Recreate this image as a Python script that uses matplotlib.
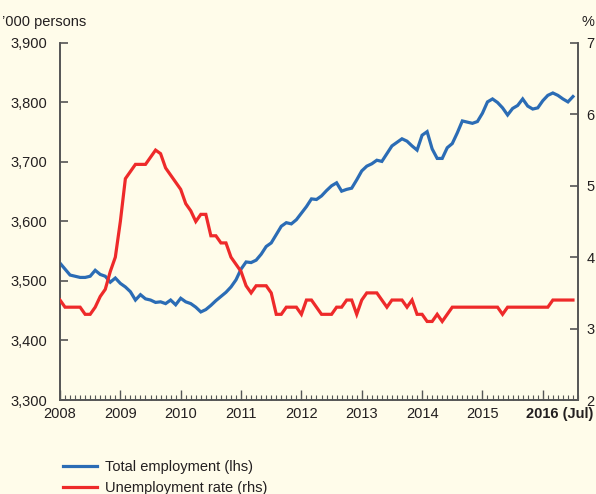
import numpy as np
import matplotlib
matplotlib.use("Agg")
import matplotlib.pyplot as plt
from matplotlib.ticker import FixedLocator, MultipleLocator, FuncFormatter
import matplotlib.transforms as mtransforms

# monthly data, Jan 2008 .. Jul 2016
employment = [
    3530, 3520, 3510, 3508, 3506, 3506, 3508, 3518, 3511, 3508, 3498, 3505,
    3496, 3490, 3482, 3468, 3477, 3470, 3468, 3464, 3465, 3462, 3468, 3460,
    3471, 3465, 3462, 3456, 3448, 3452, 3459, 3467, 3474, 3481, 3490, 3502,
    3520, 3532, 3531, 3535, 3545, 3558, 3564, 3578, 3592, 3598, 3596, 3603,
    3614, 3625, 3638, 3637, 3643, 3652, 3660, 3665, 3651, 3654, 3656, 3670,
    3685, 3693, 3697, 3703, 3701, 3714, 3727, 3733, 3739, 3735, 3727, 3720,
    3745, 3751, 3722, 3706, 3706, 3724, 3731, 3749, 3769, 3767, 3765, 3768,
    3782, 3801, 3806, 3800, 3791, 3779, 3790, 3795, 3806, 3794, 3789, 3791,
    3803, 3812, 3816, 3812, 3806, 3801, 3810,
]
unemployment = [
    3.4, 3.3, 3.3, 3.3, 3.3, 3.2, 3.2, 3.3, 3.45, 3.55, 3.8, 4.0,
    4.5, 5.1, 5.2, 5.3, 5.3, 5.3, 5.4, 5.5, 5.45, 5.25, 5.15, 5.05,
    4.95, 4.75, 4.65, 4.5, 4.6, 4.6, 4.3, 4.3, 4.2, 4.2, 4.0, 3.9,
    3.8, 3.6, 3.5, 3.6, 3.6, 3.6, 3.5, 3.2, 3.2, 3.3, 3.3, 3.3,
    3.2, 3.4, 3.4, 3.3, 3.2, 3.2, 3.2, 3.3, 3.3, 3.4, 3.4, 3.2,
    3.4, 3.5, 3.5, 3.5, 3.4, 3.3, 3.4, 3.4, 3.4, 3.3, 3.4, 3.2,
    3.2, 3.1, 3.1, 3.2, 3.1, 3.2, 3.3, 3.3, 3.3, 3.3, 3.3, 3.3,
    3.3, 3.3, 3.3, 3.3, 3.2, 3.3, 3.3, 3.3, 3.3, 3.3, 3.3, 3.3,
    3.3, 3.3, 3.4, 3.4, 3.4, 3.4, 3.4,
]
years = ["2008", "2009", "2010", "2011", "2012", "2013", "2014", "2015", "2016 (Jul)"]
left_ticks = [3300, 3400, 3500, 3600, 3700, 3800, 3900]
right_ticks = [2, 3, 4, 5, 6, 7]

months = np.arange(len(employment))

bg = "#fffcea"
txt = "#231f20"
spine_c = "#555555"
blue = "#2b6cb5"
red = "#ee2a2a"

plt.rcParams["font.family"] = ["Liberation Sans", "DejaVu Sans"]
plt.rcParams["font.size"] = 10.5

fig = plt.figure(figsize=(5.96, 4.94), dpi=100, facecolor=bg)
ax = fig.add_axes([60 / 596, 1 - 400 / 494, 518 / 596, 357 / 494])
ax.set_facecolor(bg)
ax2 = ax.twinx()

l1, = ax.plot(months, employment, color=blue, lw=2.3, solid_joinstyle="miter", zorder=3)
l2, = ax2.plot(months, unemployment, color=red, lw=2.3, solid_joinstyle="miter", zorder=3)

ax.set_xlim(0, 103)
ax.set_ylim(3300, 3900)
ax2.set_ylim(2, 7)

for a in (ax, ax2):
    a.spines["top"].set_visible(False)
    for s in ("left", "right", "bottom"):
        a.spines[s].set_color(spine_c)
        a.spines[s].set_linewidth(1.2)

ax.yaxis.set_major_locator(FixedLocator(left_ticks))
ax.yaxis.set_major_formatter(FuncFormatter(lambda v, p: f"{int(v):,}"))
ax2.yaxis.set_major_locator(FixedLocator(right_ticks))
ax2.yaxis.set_major_formatter(FuncFormatter(lambda v, p: f"{int(v)}"))

ax.xaxis.set_minor_locator(MultipleLocator(1))
ax.set_xticks(np.arange(0, 12 * len(years), 12))
ax.set_xticklabels(years)

ax.tick_params(axis="y", direction="in", length=6, width=1.2, color=spine_c,
               labelcolor=txt, pad=9, labelsize=10.5)
ax2.tick_params(axis="y", direction="in", length=6, width=1.2, color=spine_c,
                labelcolor=txt, pad=6, labelsize=10.5)
ax.tick_params(axis="x", which="major", direction="in", length=7, width=1.0,
               color=spine_c, labelcolor=txt, pad=5, labelsize=10.5)
ax.tick_params(axis="x", which="minor", direction="in", length=3.5, width=0.8,
               color=spine_c)
ax2.tick_params(axis="x", which="both", length=0)

# last year label: left aligned, bold
last = ax.get_xticklabels()[-1]
last.set_horizontalalignment("left")
last.set_fontweight("bold")
last.set_transform(last.get_transform() + mtransforms.ScaledTranslation(-17 / 100, 0, fig.dpi_scale_trans))

fig.text(2 / 596, 1 - 22 / 494, "\u2019000 persons", ha="left", va="center", fontsize=10.5, color=txt)
fig.text(588 / 596, 1 - 22 / 494, "%", ha="center", va="center", fontsize=10.5, color=txt)

fig.legend([l1, l2], ["Total employment (lhs)", "Unemployment rate (rhs)"],
           loc="upper left", bbox_to_anchor=(50 / 596, 1 - 447 / 494), frameon=False,
           handlelength=2.3, handletextpad=0.6, labelspacing=0.5, fontsize=10.5,
           labelcolor=txt)

fig.savefig("out.png", dpi=100, facecolor=bg)
